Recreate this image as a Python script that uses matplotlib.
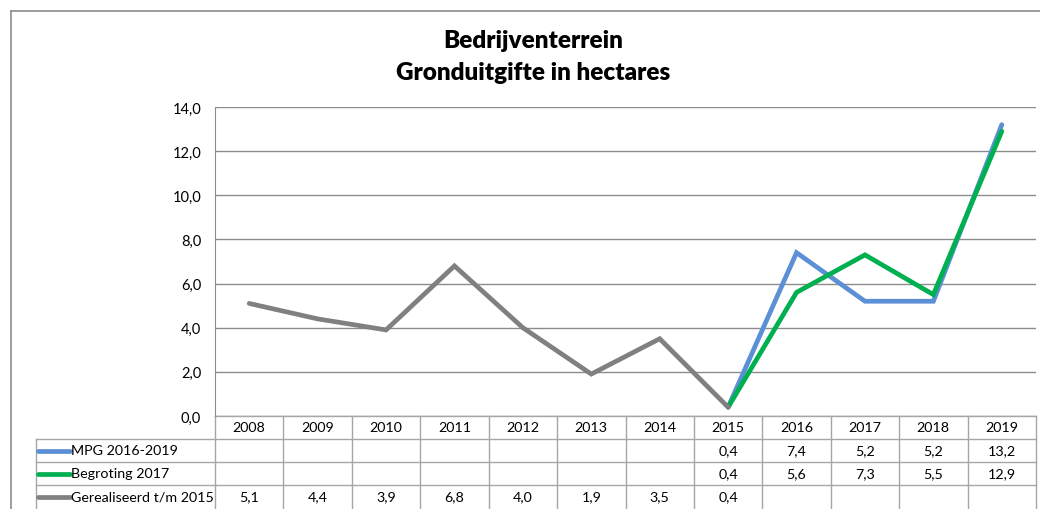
import matplotlib
matplotlib.use("Agg")
import matplotlib.pyplot as plt
import numpy as np
from matplotlib.lines import Line2D
from matplotlib.transforms import blended_transform_factory

years = ["2008", "2009", "2010", "2011", "2012", "2013", "2014",
         "2015", "2016", "2017", "2018", "2019"]
mpg = [None, None, None, None, None, None, None, 0.4, 7.4, 5.2, 5.2, 13.2]
begroting = [None, None, None, None, None, None, None, 0.4, 5.6, 7.3, 5.5, 12.9]
gerealiseerd = [5.1, 4.4, 3.9, 6.8, 4.0, 1.9, 3.5, 0.4, None, None, None, None]

series = [
    ("MPG 2016-2019", mpg, "#5b8fd6"),
    ("Begroting 2017", begroting, "#00b050"),
    ("Gerealiseerd t/m 2015", gerealiseerd, "#808080"),
]

plt.rcParams["font.family"] = ["Lato", "DejaVu Sans"]

W, H = 1040, 510
fig = plt.figure(figsize=(W / 100, H / 100), dpi=100)

# axes placed in pixel terms
ax_l, ax_r, ax_t, ax_b = 215, 1036, 108, 417
ax = fig.add_axes([ax_l / W, 1 - ax_b / H, (ax_r - ax_l) / W, (ax_b - ax_t) / H])
ax_h = ax_b - ax_t
ax_w = ax_r - ax_l

x = np.arange(len(years))
for label, vals, color in series:
    y = np.array([np.nan if v is None else v for v in vals], dtype=float)
    ax.plot(x, y, color=color, linewidth=3.4, solid_capstyle="round",
            solid_joinstyle="miter", zorder=3)

ax.set_xlim(-0.5, len(years) - 0.5)
ax.set_ylim(0, 14)
ax.set_yticks(np.arange(0, 15, 2))
ax.set_yticklabels([f"{v:.1f}".replace(".", ",") for v in np.arange(0, 15, 2)])
ax.set_xticks([])
ax.grid(axis="y", color="#8c8c8c", linewidth=1.0)
ax.set_axisbelow(True)
for side in ["top", "right", "bottom"]:
    ax.spines[side].set_visible(False)
ax.spines["left"].set_color("#8c8c8c")
ax.tick_params(axis="y", length=0, pad=10, labelsize=10.5, colors="#000000")

# data table under the plot
line_c = "#a6a6a6"
rh = 23 / ax_h
trans = blended_transform_factory(ax.transData, ax.transAxes)
leg_left = (36 - ax_l) / ax_w
n_rows = len(series)
bottom = -rh * (n_rows + 1.2)
fs = 10.3

# horizontal lines
ax.add_line(Line2D([0, 1], [0, 0], transform=ax.transAxes, color=line_c,
                   lw=1.0, clip_on=False))
for i in range(1, n_rows + 1):
    ax.add_line(Line2D([leg_left, 1], [-rh * i, -rh * i], transform=ax.transAxes,
                       color=line_c, lw=1.0, clip_on=False))
# vertical lines
ax.add_line(Line2D([0, 0], [0, bottom], transform=ax.transAxes, color=line_c,
                   lw=1.0, clip_on=False))
ax.add_line(Line2D([leg_left, leg_left], [-rh, bottom], transform=ax.transAxes,
                   color=line_c, lw=1.0, clip_on=False))
for i in range(len(years)):
    xb = i + 0.5
    ax.add_line(Line2D([xb, xb], [0, bottom], transform=trans, color=line_c,
                       lw=1.0, clip_on=False))

for i, yr in enumerate(years):
    ax.text(i, -rh * 0.5, yr, transform=trans, ha="center", va="center",
            fontsize=fs)

for r, (label, vals, color) in enumerate(series):
    yc = -rh * (r + 1.5)
    ax.add_line(Line2D([(38 - ax_l) / ax_w, (70 - ax_l) / ax_w], [yc, yc],
                       transform=ax.transAxes, color=color, lw=3.4,
                       solid_capstyle="round", clip_on=False))
    ax.text((71 - ax_l) / ax_w, yc, label, transform=ax.transAxes,
            ha="left", va="center", fontsize=fs)
    for i, v in enumerate(vals):
        if v is None:
            continue
        ax.text(i, yc, f"{v:.1f}".replace(".", ","), transform=trans,
                ha="center", va="center", fontsize=fs)

fig.text(533 / W, 1 - 48 / H, "Bedrijventerrein", ha="center", va="baseline",
         fontsize=17.5, fontweight="heavy")
fig.text(533 / W, 1 - 80 / H, "Gronduitgifte in hectares", ha="center",
         va="baseline", fontsize=17.5, fontweight="heavy")

# outer chart frame
fig.add_artist(Line2D([11 / W, 11 / W], [0, 1 - 12 / H], transform=fig.transFigure,
                      color="#8c8c8c", lw=1.2))
fig.add_artist(Line2D([11 / W, 1], [1 - 12 / H, 1 - 12 / H], transform=fig.transFigure,
                      color="#8c8c8c", lw=1.2))

fig.savefig("out.png", dpi=100)
